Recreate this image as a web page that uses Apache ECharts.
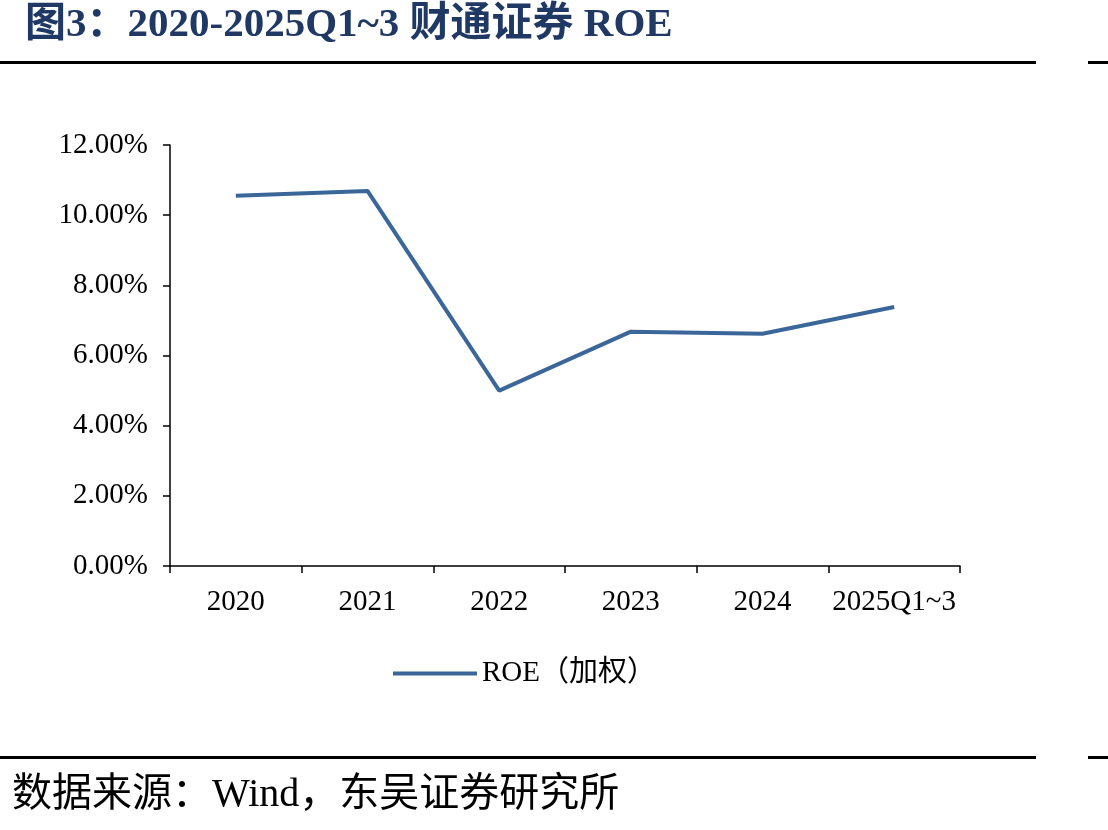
<!DOCTYPE html>
<html>
<head>
<meta charset="utf-8">
<script src="https://cdn.jsdelivr.net/npm/echarts@6/dist/echarts.min.js"></script>
<style>
  html, body { margin: 0; padding: 0; background: #fff; }
  #chart { width: 1108px; height: 830px; }
</style>
</head>
<body>
<div id="chart"></div>
<script>
  // 数据
  const categories = ['2020', '2021', '2022', '2023', '2024', '2025Q1~3'];
  const roeValues = [10.55, 10.69, 5.00, 6.68, 6.62, 7.38];
  const seriesName = 'ROE（加权）';

  const FONT = '"Liberation Serif", "Times New Roman", "Noto Sans CJK SC", serif';
  const LINE_COLOR = '#3B6699';

  const chart = echarts.init(document.getElementById('chart'), null, { renderer: 'canvas' });

  chart.setOption({
    backgroundColor: '#fff',
    animation: false,
    title: {
      text: '图3：2020-2025Q1~3 财通证券 ROE',
      left: 20, top: 0,
      textStyle: { fontFamily: FONT, fontSize: 41, fontWeight: 'bold', color: '#1F3864' },
    },
    graphic: [
      { type: 'rect', shape: { x: 0, y: 61, width: 1036, height: 3 }, style: { fill: '#000' } },
      { type: 'rect', shape: { x: 1088, y: 61, width: 20, height: 3 }, style: { fill: '#000' } },
      { type: 'rect', shape: { x: 0, y: 756, width: 1036, height: 3 }, style: { fill: '#000' } },
      { type: 'rect', shape: { x: 1088, y: 756, width: 20, height: 3 }, style: { fill: '#000' } },
      {
        type: 'text', left: 12, top: 775,
        style: { text: '数据来源：Wind，东吴证券研究所', fontFamily: FONT, fontSize: 40, fill: '#000' },
      },
    ],
    legend: {
      top: 654, left: 388,
      itemWidth: 84, itemHeight: 14, itemGap: 8,
      textStyle: { fontFamily: FONT, fontSize: 29, color: '#000' },
      data: [{ name: seriesName, icon: 'path://M0,6 L84,6 L84,10 L0,10 Z' }],
    },
    grid: { left: 170, right: 148, top: 145, bottom: 264, containLabel: false },
    xAxis: {
      type: 'category',
      data: categories,
      boundaryGap: true,
      axisLine: { lineStyle: { color: '#000', width: 1.5 } },
      axisTick: { show: true, length: 7, inside: false, lineStyle: { color: '#000', width: 1.5 } },
      axisLabel: { interval: 0, fontFamily: FONT, fontSize: 29, color: '#000', margin: 22 },
    },
    yAxis: {
      type: 'value',
      min: 0, max: 12, interval: 2,
      axisLine: { show: true, lineStyle: { color: '#000', width: 1.5 } },
      axisTick: { show: true, length: 7, lineStyle: { color: '#000', width: 1.5 } },
      splitLine: { show: false },
      axisLabel: {
        fontFamily: FONT, fontSize: 29, color: '#000', margin: 22,
        formatter: (v) => v.toFixed(2) + '%',
      },
    },
    series: [{
      name: seriesName,
      type: 'line',
      data: roeValues,
      symbol: 'none',
      lineStyle: { color: LINE_COLOR, width: 4 },
      itemStyle: { color: LINE_COLOR },
    }],
  });
</script>
</body>
</html>
